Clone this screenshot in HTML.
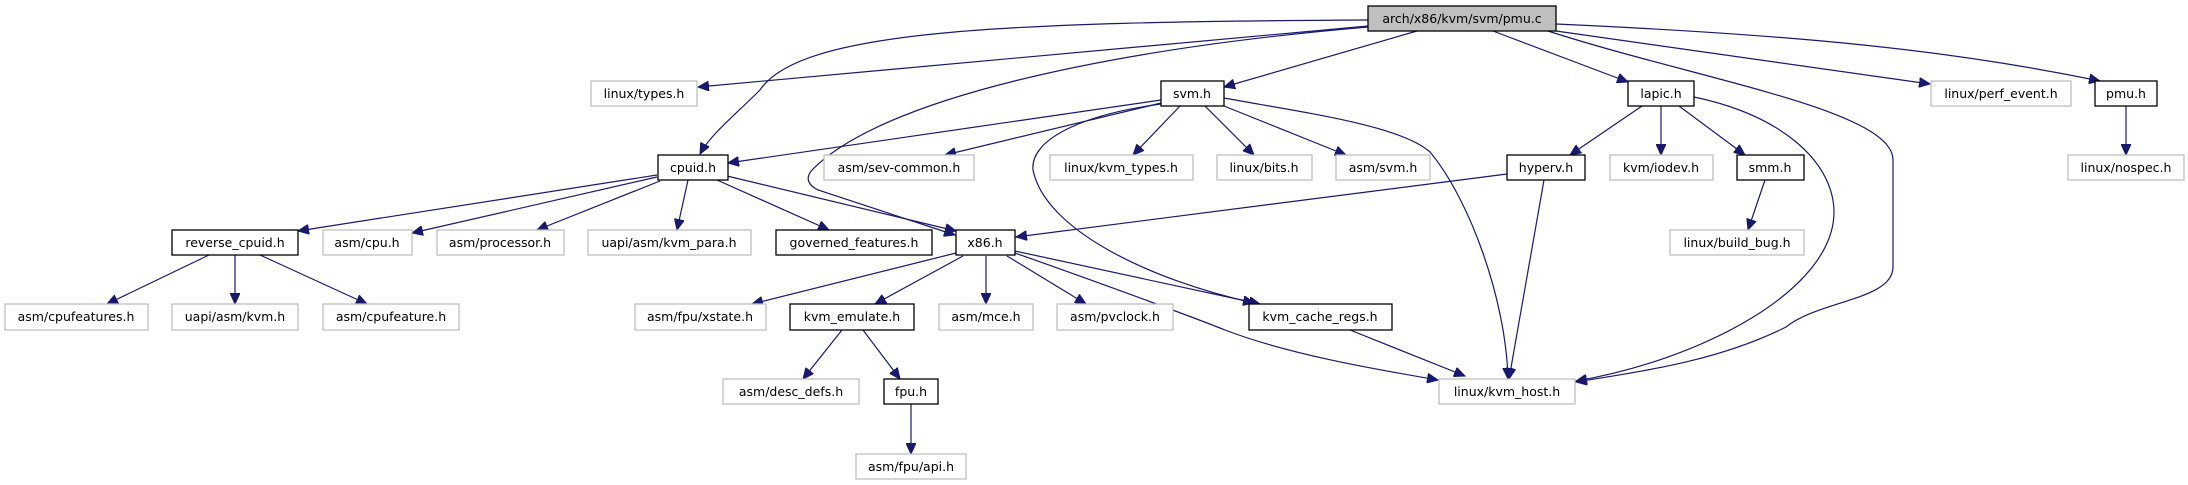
<!DOCTYPE html>
<html><head><meta charset="utf-8"><style>
html,body{margin:0;padding:0;background:#fff;}
svg{display:block;}
text{font-family:"DejaVu Sans","Liberation Sans",sans-serif;font-size:12.5px;text-anchor:middle;fill:#000;}
.g{fill:#fff;stroke:#bfbfbf;stroke-width:1.3;}
.b{fill:#fff;stroke:#000;stroke-width:1.3;}
.e{fill:none;stroke:#191970;stroke-width:1.2;}
</style></head><body>
<svg width="2188" height="485" viewBox="0 0 2188 485" xmlns="http://www.w3.org/2000/svg">
<defs><marker id="a" markerUnits="userSpaceOnUse" markerWidth="12" markerHeight="10" refX="11" refY="5" orient="auto"><path d="M0,0 L11,5 L0,10 z" fill="#191970" stroke="#191970"/></marker></defs>
<g class="e" marker-end="url(#a)">
<!-- arch edges -->
<path d="M1368,26 L698,87"/>
<path d="M1368,20 C1000,22 800,30 760,90 C735,115 710,135 700,154"/>
<path d="M1417,31 L1224,87"/>
<path d="M1368,27 C1100,50 880,100 812,170 C805,178 808,185 818,190 L955,235"/>
<path d="M1493,31 L1628,82"/>
<path d="M1548,31 C1700,80 1893,110 1893,160 L1893,267 C1893,300 1820,300 1786,327 C1720,360 1650,370 1576,382"/>
<path d="M1556,31 L1930,84"/>
<path d="M1556,24 C1800,35 1950,50 2100,81"/>
<!-- svm edges -->
<path d="M1161,100 L728,163"/>
<path d="M1161,103 L945,155"/>
<path d="M1180,106 L1133,155"/>
<path d="M1205,106 L1254,155"/>
<path d="M1224,106 L1346,155"/>
<path d="M1161,104 C1080,115 1030,140 1033,170 C1045,230 1150,280 1254,303"/>
<path d="M1224,98 C1300,112 1400,125 1430,152 C1470,200 1506,300 1508,379"/>
<!-- lapic -->
<path d="M1642,106 L1570,155"/>
<path d="M1661,106 L1661,155"/>
<path d="M1679,106 L1745,155"/>
<path d="M1694,97 C1780,115 1832,160 1834,210 C1836,290 1700,360 1576,381"/>
<!-- hyperv -->
<path d="M1507,174 L1016,237"/>
<path d="M1544,180 L1509,379"/>
<path d="M1765,180 L1748,230"/>
<path d="M2126,106 L2126,155"/>
<!-- cpuid -->
<path d="M657,175 L298,231"/>
<path d="M657,177 L412,233"/>
<path d="M660,181 L537,230"/>
<path d="M688,180 L677,230"/>
<path d="M717,180 L829,230"/>
<path d="M727,176 L956,231"/>
<!-- reverse_cpuid -->
<path d="M209,255 L107,304"/>
<path d="M235,255 L235,304"/>
<path d="M260,255 L367,304"/>
<!-- x86 -->
<path d="M956,253 L752,304"/>
<path d="M963,256 L875,304"/>
<path d="M986,256 L986,304"/>
<path d="M1007,256 L1086,304"/>
<path d="M1015,251 L1260,304"/>
<path d="M1015,253 C1120,290 1200,320 1225,330 C1290,355 1380,370 1438,380"/>
<path d="M842,330 L803,379"/>
<path d="M863,330 L900,379"/>
<path d="M911,404 L911,454"/>
<path d="M1350,330 L1465,376"/>
</g>
<!-- nodes -->
<rect x="1368" y="6" width="188" height="25" fill="#bfbfbf" stroke="#000" stroke-width="1.3"/><text x="1462" y="23">arch/x86/kvm/svm/pmu.c</text>
<rect class="g" x="591" y="81" width="106" height="25"/><text x="644" y="98">linux/types.h</text>
<rect class="b" x="1161" y="81" width="63" height="25"/><text x="1192" y="98">svm.h</text>
<rect class="b" x="1628" y="81" width="66" height="25"/><text x="1661" y="98">lapic.h</text>
<rect class="g" x="1931" y="81" width="140" height="25"/><text x="2001" y="98">linux/perf_event.h</text>
<rect class="b" x="2095" y="81" width="62" height="25"/><text x="2126" y="98">pmu.h</text>
<rect class="b" x="658" y="155" width="70" height="25"/><text x="693" y="172">cpuid.h</text>
<rect class="g" x="824" y="155" width="150" height="25"/><text x="899" y="172">asm/sev-common.h</text>
<rect class="g" x="1050" y="155" width="143" height="25"/><text x="1121" y="172">linux/kvm_types.h</text>
<rect class="g" x="1217" y="155" width="95" height="25"/><text x="1264" y="172">linux/bits.h</text>
<rect class="g" x="1336" y="155" width="94" height="25"/><text x="1383" y="172">asm/svm.h</text>
<rect class="b" x="1507" y="155" width="78" height="25"/><text x="1546" y="172">hyperv.h</text>
<rect class="g" x="1610" y="155" width="103" height="25"/><text x="1661" y="172">kvm/iodev.h</text>
<rect class="b" x="1737" y="155" width="67" height="25"/><text x="1770" y="172">smm.h</text>
<rect class="g" x="2068" y="155" width="116" height="25"/><text x="2126" y="172">linux/nospec.h</text>
<rect class="b" x="172" y="230" width="126" height="25"/><text x="235" y="247">reverse_cpuid.h</text>
<rect class="g" x="323" y="230" width="89" height="25"/><text x="367" y="247">asm/cpu.h</text>
<rect class="g" x="437" y="230" width="127" height="25"/><text x="500" y="247">asm/processor.h</text>
<rect class="g" x="588" y="230" width="163" height="25"/><text x="669" y="247">uapi/asm/kvm_para.h</text>
<rect class="b" x="776" y="230" width="156" height="25"/><text x="854" y="247">governed_features.h</text>
<rect class="b" x="956" y="230" width="59" height="25"/><text x="985" y="247">x86.h</text>
<rect class="g" x="1670" y="230" width="134" height="25"/><text x="1737" y="247">linux/build_bug.h</text>
<rect class="g" x="5" y="304" width="143" height="26"/><text x="76" y="321">asm/cpufeatures.h</text>
<rect class="g" x="172" y="304" width="126" height="26"/><text x="235" y="321">uapi/asm/kvm.h</text>
<rect class="g" x="323" y="304" width="136" height="26"/><text x="391" y="321">asm/cpufeature.h</text>
<rect class="g" x="635" y="304" width="131" height="26"/><text x="700" y="321">asm/fpu/xstate.h</text>
<rect class="b" x="790" y="304" width="124" height="26"/><text x="852" y="321">kvm_emulate.h</text>
<rect class="g" x="939" y="304" width="94" height="26"/><text x="986" y="321">asm/mce.h</text>
<rect class="g" x="1057" y="304" width="116" height="26"/><text x="1115" y="321">asm/pvclock.h</text>
<rect class="b" x="1249" y="304" width="143" height="26"/><text x="1320" y="321">kvm_cache_regs.h</text>
<rect class="g" x="723" y="379" width="136" height="25"/><text x="791" y="396">asm/desc_defs.h</text>
<rect class="b" x="884" y="379" width="54" height="25"/><text x="911" y="396">fpu.h</text>
<rect class="g" x="1439" y="379" width="136" height="25"/><text x="1507" y="396">linux/kvm_host.h</text>
<rect class="g" x="856" y="454" width="110" height="25"/><text x="911" y="471">asm/fpu/api.h</text>
</svg>
</body></html>
